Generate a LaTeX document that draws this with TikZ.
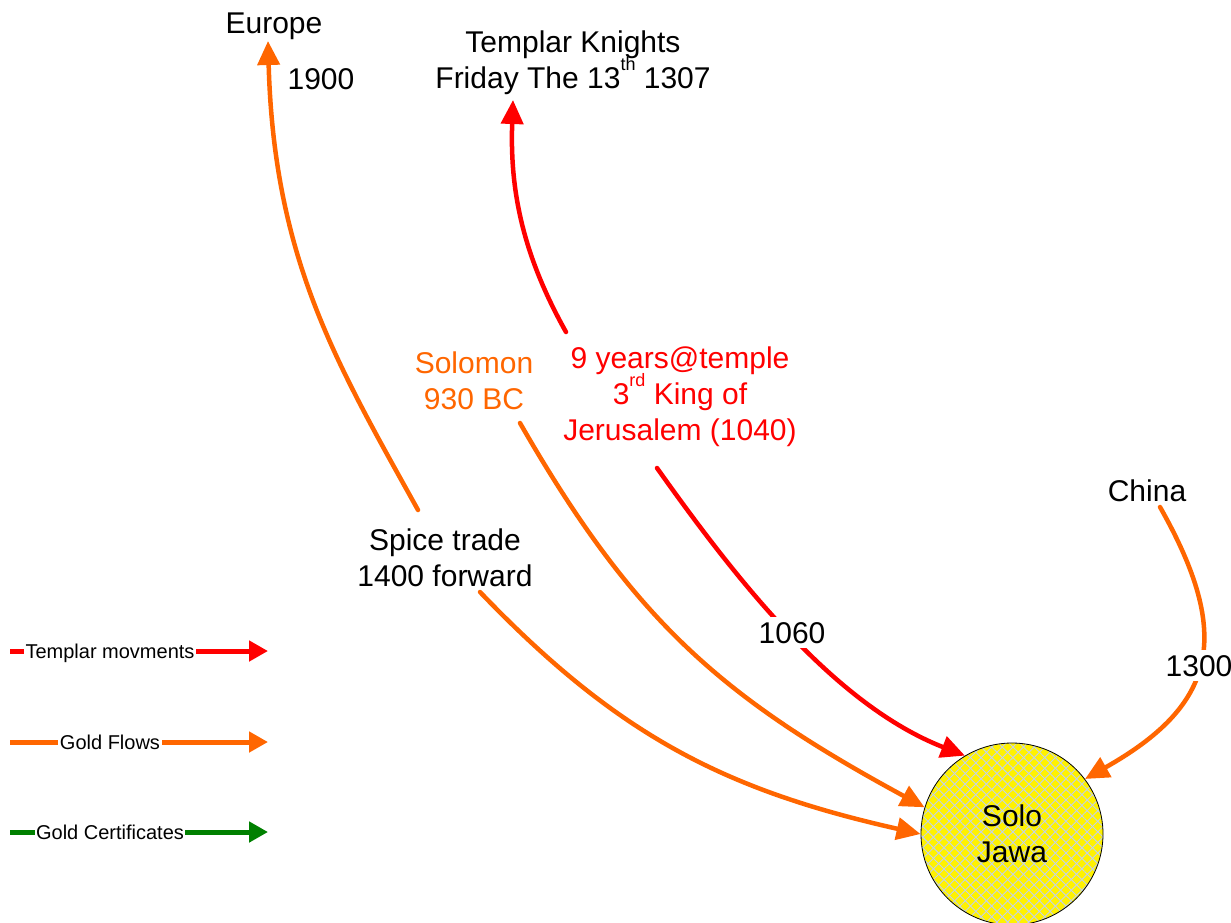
\documentclass[tikz,border=0pt]{standalone}
\usepackage{fontspec}
\setmainfont{Liberation Sans}
\usetikzlibrary{arrows.meta,patterns.meta}
\definecolor{gold}{HTML}{FF6600}
\definecolor{tred}{HTML}{FF0000}
\definecolor{cert}{HTML}{008000}
\definecolor{hatch}{RGB}{196,210,232}
\newcommand{\supr}[1]{\smash{\raisebox{0.6em}{\fontsize{18}{20}\selectfont #1}}}
\begin{document}
\begin{tikzpicture}[x=1pt,y=-1pt,
  lbl/.style={inner sep=0pt, font=\fontsize{30}{36}\selectfont, align=center},
  onln/.style={lbl, fill=white, inner sep=5pt},
  flow/.style={line width=4.5pt, line cap=round, -{Triangle[length=24pt,width=22pt]}},
  leg/.style={line width=5pt, -{Triangle[length=19pt,width=20pt]}},
  legtxt/.style={fill=white, inner sep=1.5pt, font=\fontsize{20}{24}\selectfont}]
\useasboundingbox (0,0) rectangle (1231,922);

% legend
\coordinate (la) at (10,651); \coordinate (lb) at (268,651);
\coordinate (ga) at (10,742); \coordinate (gb) at (268,742);
\coordinate (ca) at (10,832); \coordinate (cb) at (268,832);
\draw[leg, tred] (la) -- (lb);
\draw[leg, gold] (ga) -- (gb);
\draw[leg, cert] (ca) -- (cb);
\node[legtxt, anchor=base] (lt) at (110,658) {Templar movments};
\node[legtxt, anchor=base] (lg) at (110,749) {Gold Flows};
\node[legtxt, anchor=base] (lc) at (110,839) {Gold Certificates};

% central circle
\node[circle, draw=black, line width=0.8pt, minimum size=182pt, inner sep=0pt,
  preaction={fill=yellow},
  preaction={pattern={Lines[angle=45,distance=7.5pt,line width=0.9pt]}, pattern color=hatch},
  pattern={Lines[angle=-45,distance=7.5pt,line width=0.9pt]}, pattern color=hatch,
  font=\fontsize{30}{36}\selectfont, align=center] (solo) at (1012,834) {Solo\\Jawa};

% labels
\node[lbl, anchor=base] (europe) at (274,33) {Europe};
\node[lbl, anchor=base] (y1900) at (321,89) {1900};
\node[lbl] (templar) at (573,63) {Templar Knights\\Friday The 13\supr{th} 1307};
\node[lbl, text=gold] (solomon) at (474,381) {Solomon\\930 BC};
\node[lbl, text=tred] (nine) at (680,397) {9 years@temple\\3\supr{rd} King of\\Jerusalem (1040)};
\node[lbl, anchor=base] (china) at (1147,501) {China};
\node[lbl] (spice) at (445,558) {Spice trade\\1400 forward};

% connectors
\draw[flow, gold] ([shift={(-27,-48)}]spice.center) .. controls (337,364) and (274,260) .. ([shift={(-6,8)}]europe.base);
\draw[flow, gold] ([shift={(35,34)}]spice.center) .. controls (618,736) and (725,790) .. (solo.180);
\draw[flow, gold] ([shift={(46,42)}]solomon.center) .. controls (634.5,622.4) and (723,698) .. (solo.163);
\draw[flow, tred] ([shift={(-114,-65)}]nine.center) .. controls (520,250) and (510,185) .. ([shift={(-60,37)}]templar.center);
\draw[flow, tred] ([shift={(-23,71)}]nine.center) .. controls (738,582) and (835,705) .. (solo.121);
\draw[flow, gold] ([shift={(13,6)}]china.base) .. controls (1233.5,637) and (1216,705) .. (solo.37);

\node[onln, anchor=base] (y1060) at (792,643) {1060};
\node[onln, anchor=base] (y1300) at (1199,676) {1300};
\end{tikzpicture}
\end{document}
